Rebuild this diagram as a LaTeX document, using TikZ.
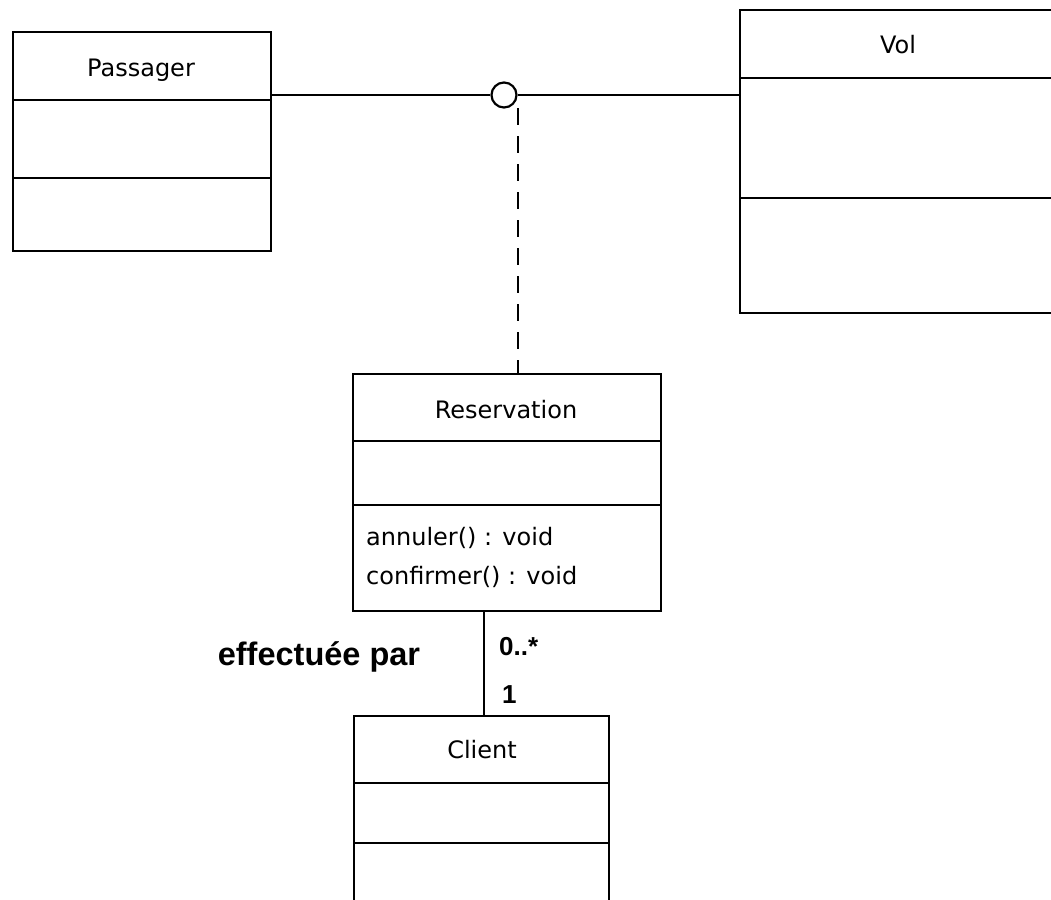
\documentclass[tikz,border=0pt]{standalone}
\usepackage{fontspec}
\setmainfont{DejaVu Sans}
\newfontfamily\boldlab{Liberation Sans}
\usetikzlibrary{calc}
\begin{document}
\begin{tikzpicture}[x=1pt,y=-1pt,
  cls/.style={draw, line width=2.2pt, anchor=north west, inner sep=0pt, outer sep=0pt, fill=white},
  sep/.style={line width=2.2pt},
  ttl/.style={anchor=base, inner sep=0pt, font=\fontsize{24}{28}\selectfont},
  meth/.style={anchor=base west, inner sep=0pt, font=\fontsize{24}{28}\selectfont},
  lab/.style={inner sep=0pt, font=\boldlab\bfseries\fontsize{32.5}{38}\selectfont},
  mult/.style={anchor=base west, inner sep=0pt, font=\boldlab\bfseries\fontsize{26}{30}\selectfont},
  conn/.style={line width=2.2pt},
  dconn/.style={line width=2.2pt, dash pattern=on 17pt off 11pt}
]
\useasboundingbox (0,0) rectangle (1051,899);
\clip (0,0) rectangle (1051,899);
\fill[white] (0,0) rectangle (1051,899);

% Passager
\node[cls, minimum width=258, minimum height=219] (pass) at (13,32) {};
\draw[sep] ($(pass.north west)+(0,68)$) -- ($(pass.north east)+(0,68)$);
\draw[sep] ($(pass.north west)+(0,146)$) -- ($(pass.north east)+(0,146)$);
\node[ttl] (passT) at (141,77) {Passager};

% Vol
\node[cls, minimum width=330, minimum height=303] (vol) at (740,10) {};
\draw[sep] ($(vol.north west)+(0,68)$) -- ($(vol.north east)+(0,68)$);
\draw[sep] ($(vol.north west)+(0,188)$) -- ($(vol.north east)+(0,188)$);
\node[ttl] (volT) at (898,53) {Vol};

% Reservation
\node[cls, minimum width=308, minimum height=237] (resa) at (353,374) {};
\draw[sep] ($(resa.north west)+(0,67)$) -- ($(resa.north east)+(0,67)$);
\draw[sep] ($(resa.north west)+(0,131)$) -- ($(resa.north east)+(0,131)$);
\node[ttl] (resaT) at (506,418) {Reservation};
\node[meth] (m1) at (366,545) {annuler() : void};
\node[meth] (m2) at (366,584) {confirmer() : void};

% Client
\node[cls, minimum width=255, minimum height=200] (client) at (354,716) {};
\draw[sep] ($(client.north west)+(0,67)$) -- ($(client.north east)+(0,67)$);
\draw[sep] ($(client.north west)+(0,127)$) -- ($(client.north east)+(0,127)$);
\node[ttl] (clientT) at (482,758) {Client};

% association class circle
\node[circle, draw, line width=2.2pt, fill=white, minimum size=25pt, inner sep=0pt] (circ) at (504,95) {};
\draw[conn] (pass.east |- circ.west) -- (circ.west);
\draw[conn] (circ.east) -- (vol.west |- circ.east);
\coordinate (dtop) at (518,108);
\draw[dconn] (dtop) -- (dtop |- resa.north);

% Reservation -- Client
\coordinate (lx) at (484,0);
\draw[conn] (resa.south -| lx) -- (client.north -| lx);
\node[lab, anchor=base] (eff) at (319,665) {effectuée par};
\node[mult] (mstar) at (499,655) {0..*};
\node[mult] (mone) at (502,703) {1};
\end{tikzpicture}
\end{document}
